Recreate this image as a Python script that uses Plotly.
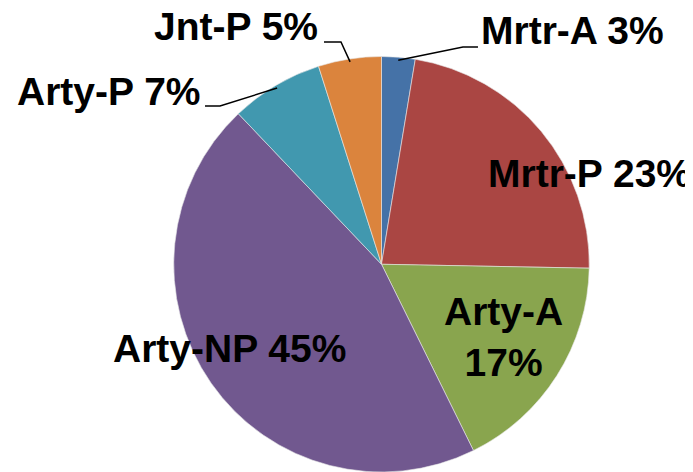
import math
import plotly.graph_objects as go

# slice data, clockwise from 12 o'clock
labels = ['Mrtr-A', 'Mrtr-P', 'Arty-A', 'Arty-NP', 'Arty-P', 'Jnt-P']
values = [2.6, 22.7, 17.4, 45.2, 7.2, 4.9]
colors = ['#4572A7', '#AA4643', '#89A54E', '#71588F', '#4198AF', '#DB843D']

# page body has an 8px margin, so the figure is drawn 8px in from the window edge
OFF = 8
W, H = 693 - OFF, 472 - OFF
CX, CY, R = 381.5, 264.5, 208


def px(x, y):
    # window pixel position -> paper coordinates
    return (x - OFF) / W, 1 - (y - OFF) / H


def slice_point(i, r):
    total = sum(values)
    mid = (sum(values[:i]) + values[i] / 2) / total * 2 * math.pi
    return CX + r * math.sin(mid), CY - r * math.cos(mid)


x0, y0 = px(CX - R, CY + R)
x1, y1 = px(CX + R, CY - R)
fig = go.Figure(go.Pie(
    labels=labels,
    values=values,
    marker=dict(colors=colors, line=dict(color='#e8e8e8', width=0.6)),
    sort=False,
    direction='clockwise',
    rotation=0,
    textinfo='none',
    hoverinfo='label+percent',
    domain=dict(x=[max(0, x0), min(1, x1)], y=[max(0, y0), min(1, y1)]),
    showlegend=False,
))

font = dict(family='Liberation Sans, Arial', size=39, color='black')

# label text and centre position (window pixels)
label_pos = {
    0: (572, 30),
    1: (589, 173),
    2: (503, 337),
    3: (229, 348),
    4: (109, 91),
    5: (236, 27),
}
label_text = {
    0: '<b>Mrtr-A 3%</b>',
    1: '<b>Mrtr-P 23%</b>',
    2: '<b>Arty-A<br>17%</b>',
    3: '<b>Arty-NP 45%</b>',
    4: '<b>Arty-P 7%</b>',
    5: '<b>Jnt-P 5%</b>',
}

annotations = []
for i, (x, y) in label_pos.items():
    ax, ay = px(x, y)
    annotations.append(dict(x=ax, y=ay, xref='paper', yref='paper', text=label_text[i],
                            showarrow=False, xanchor='center', yanchor='middle',
                            font=font, align='center'))

# leader lines for the small slices: elbow and end (window pixels)
leaders = {
    0: [(463, 47), (478, 47)],
    5: [(341, 42), (324, 42)],
    4: [(220, 106), (205, 106)],
}
shapes = []
for i, pts in leaders.items():
    sx, sy = slice_point(i, R - 3)
    path_pts = [px(sx, sy)] + [px(x, y) for x, y in pts]
    d = 'M ' + ' L '.join(f'{a:.4f} {b:.4f}' for a, b in path_pts)
    shapes.append(dict(type='path', path=d, xref='paper', yref='paper',
                       line=dict(color='black', width=1.5)))

fig.update_layout(
    width=W, height=H,
    margin=dict(l=0, r=0, t=0, b=0),
    paper_bgcolor='white',
    plot_bgcolor='white',
    annotations=annotations,
    shapes=shapes,
)

fig.write_html('out.html')
